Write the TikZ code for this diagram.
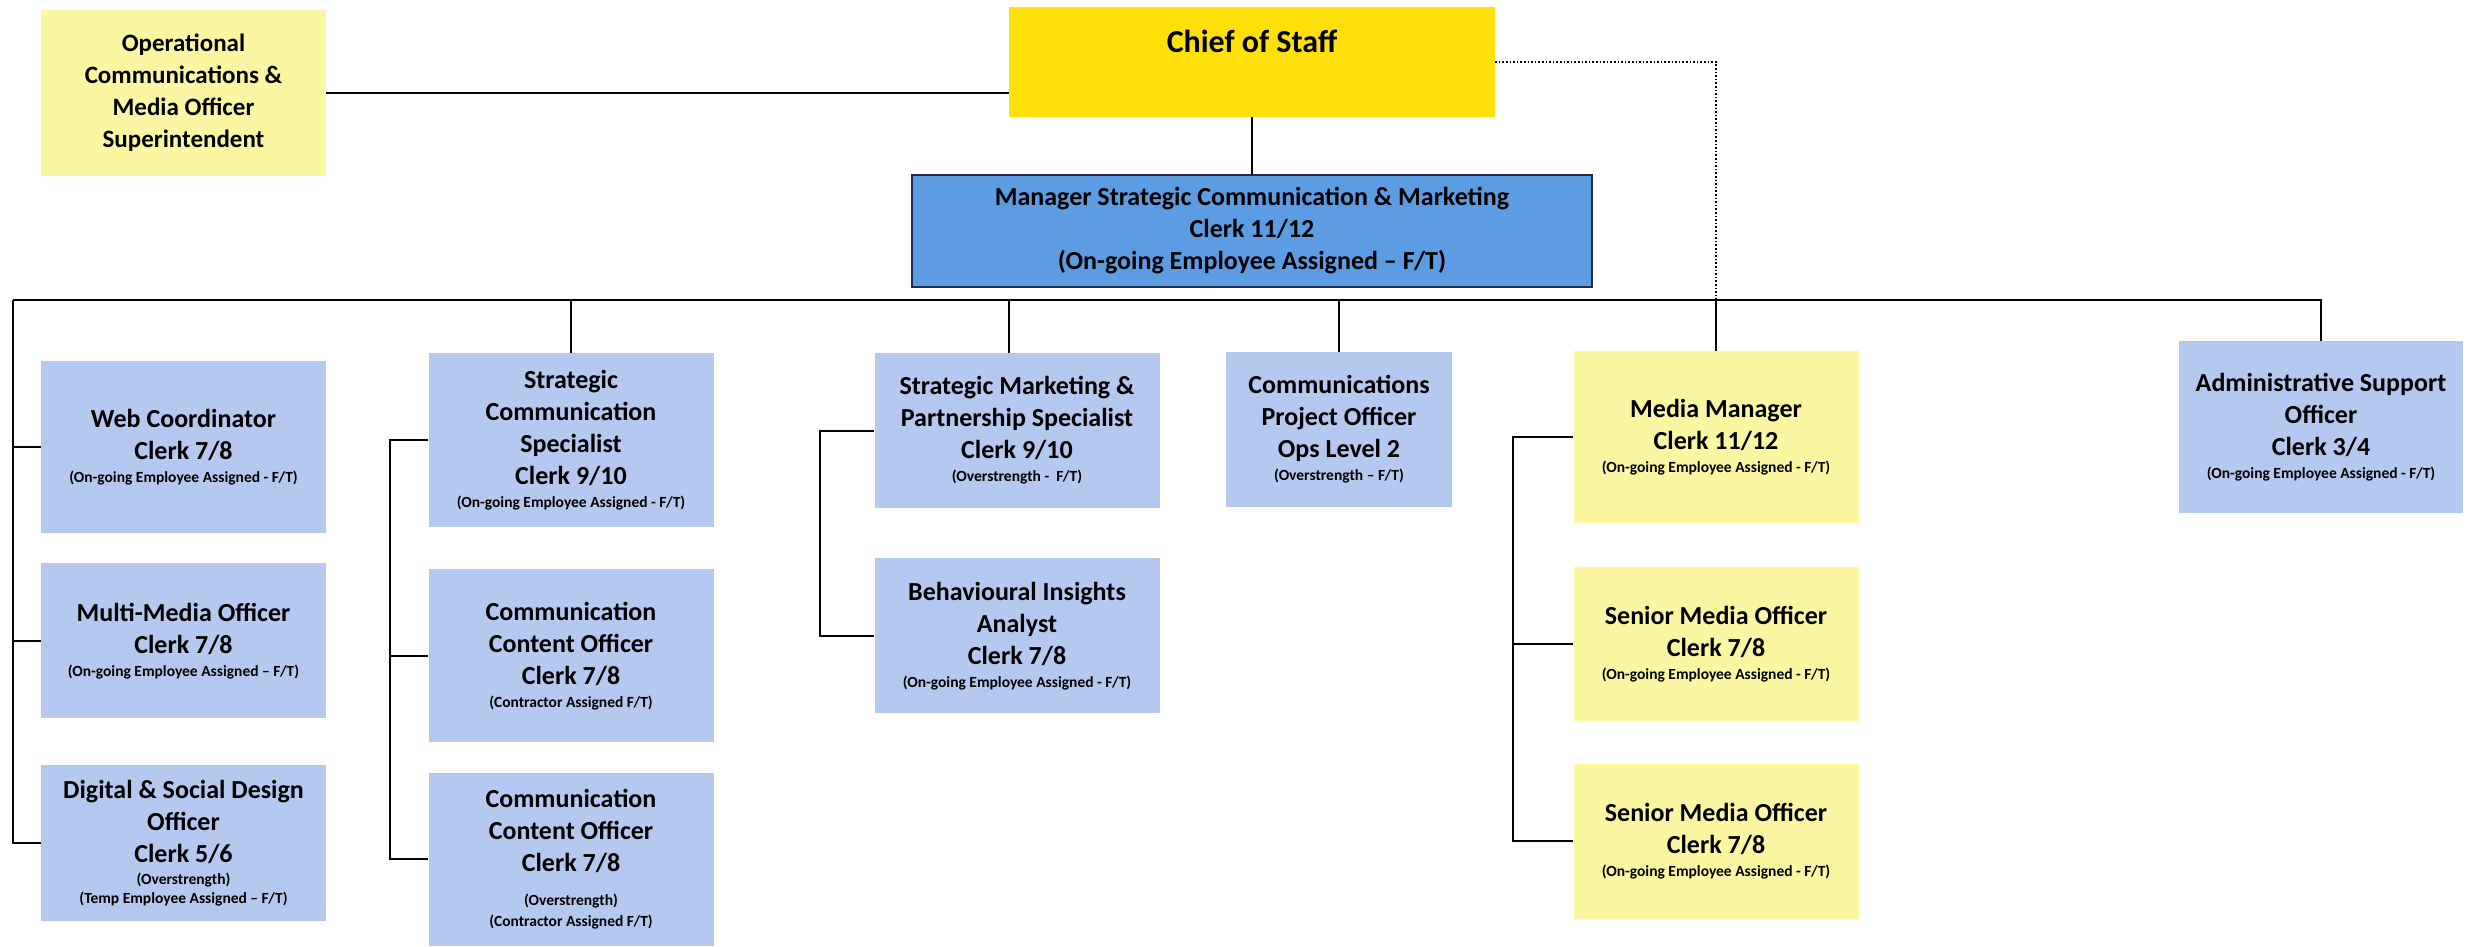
\documentclass[tikz,border=0pt]{standalone}
\usepackage{fontspec}
\setmainfont{Carlito}
\usepackage{xcolor}
\usepackage{tikz}
\usetikzlibrary{positioning}

\definecolor{paleblue}{RGB}{180,200,240}
\definecolor{paleyellow}{RGB}{250,246,162}
\definecolor{chiefyellow}{RGB}{255,224,10}
\definecolor{midblue}{RGB}{92,156,226}
\definecolor{navyline}{RGB}{30,45,80}
\newcommand{\smallnote}[1]{{\fontsize{15.5}{23}\selectfont #1}}

\begin{document}
\begin{tikzpicture}[x=1pt, y=-1pt,
  every node/.style={font=\bfseries\fontsize{26}{32}\selectfont, align=center, inner sep=0pt},
  role/.style={rectangle, fill=paleblue, minimum width=285pt},
  media/.style={rectangle, fill=paleyellow, minimum width=285pt},
  chief/.style={rectangle, fill=chiefyellow, minimum width=486pt, text height=46pt, text depth=64pt, font=\bfseries\fontsize{32}{38}\selectfont},
  manager/.style={rectangle, draw=navyline, line width=1.5pt, fill=midblue, minimum width=680pt, minimum height=112pt},
  link/.style={line width=2pt},
  dotlink/.style={line width=1.6pt, dotted}
]
  \useasboundingbox (0,0) rectangle (2467,947);

  % top of the chart
  \node[chief] (chief) at (1252,62) {Chief of Staff};
  \node[manager, below=57pt of chief] (manager) {Manager Strategic Communication \& Marketing\\Clerk 11/12\\(On-going Employee Assigned – F/T)};
  \node[media, minimum height=166pt, font=\bfseries\fontsize{25}{32}\selectfont] (ops) at (183.5,93) {Operational\\Communications \&\\Media Officer\\Superintendent};

  % first column
  \node[role, minimum height=172pt] (web) at (183.5,447) {Web Coordinator\\Clerk 7/8\\[-9pt]\smallnote{(On-going Employee Assigned - F/T)}};
  \node[role, minimum height=155pt, below=30pt of web] (multi) {Multi-Media Officer\\Clerk 7/8\\[-9pt]\smallnote{(On-going Employee Assigned – F/T)}};
  \node[role, minimum height=156pt, below=46pt of multi] (digital) {Digital \& Social Design\\Officer\\Clerk 5/6\\[-10pt]\smallnote{(Overstrength)}\\[-13pt]\smallnote{(Temp Employee Assigned – F/T)}};

  % second column
  \node[role, minimum height=174pt] (stratcomm) at (571,440) {Strategic\\Communication\\Specialist\\Clerk 9/10\\[-9pt]\smallnote{(On-going Employee Assigned - F/T)}};
  \node[role, minimum height=173pt, below=42pt of stratcomm] (content1) {Communication\\Content Officer\\Clerk 7/8\\[-9pt]\smallnote{(Contractor Assigned F/T)}};
  \node[role, minimum height=173pt, below=30pt of content1] (content2) {Communication\\Content Officer\\Clerk 7/8\\[2pt]\smallnote{(Overstrength)}\\[-11pt]\smallnote{(Contractor Assigned F/T)}};

  % third column
  \node[role, minimum height=155pt] (stratmkt) at (1017,430.5) {Strategic Marketing \&\\Partnership Specialist\\Clerk 9/10\\[-9pt]\smallnote{(Overstrength -\ \ F/T)}};
  \node[role, minimum height=155pt, below=50pt of stratmkt] (behav) {Behavioural Insights\\Analyst\\Clerk 7/8\\[-9pt]\smallnote{(On-going Employee Assigned - F/T)}};

  \node[role, minimum width=226pt, minimum height=155pt] (projofficer) at (1339,429.5) {Communications\\Project Officer\\Ops Level 2\\[-9pt]\smallnote{(Overstrength – F/T)}};

  % media column
  \node[media, minimum height=172pt] (mediamgr) at (1716,437) {Media Manager\\Clerk 11/12\\[-9pt]\smallnote{(On-going Employee Assigned - F/T)}};
  \node[media, minimum height=154pt, below=44pt of mediamgr] (senior1) {Senior Media Officer\\Clerk 7/8\\[-9pt]\smallnote{(On-going Employee Assigned - F/T)}};
  \node[media, minimum height=155pt, below=42pt of senior1] (senior2) {Senior Media Officer\\Clerk 7/8\\[-9pt]\smallnote{(On-going Employee Assigned - F/T)}};

  \node[role, minimum width=284pt, minimum height=172pt] (admin) at (2321,427) {Administrative Support\\Officer\\Clerk 3/4\\[-9pt]\smallnote{(On-going Employee Assigned - F/T)}};

  % lines
  \coordinate (busL) at (13,300);
  \draw[link] (ops.east) -- (ops.east -| chief.west);
  \draw[link] (chief.south) -- (manager.north);
  \draw[dotlink] (chief.east) -| (mediamgr.north |- busL);
  \draw[link] (busL) -- (busL -| admin.north) -- (admin.north);
  \foreach \n in {stratcomm, projofficer, mediamgr}
    \draw[link] (\n.north |- busL) -- (\n.north);
  \draw[link] ([xshift=-8pt]stratmkt.north |- busL) -- ([xshift=-8pt]stratmkt.north);

  \draw[link] (busL) |- (digital.west);
  \foreach \n in {web, multi}
    \draw[link] (\n.west -| busL) -- (\n.west);

  \coordinate (scbr) at ([xshift=-38pt]stratcomm.west);
  \draw[link] (stratcomm.west) -- (scbr) |- (content2.west);
  \draw[link] (scbr |- content1.west) -- (content1.west);

  \coordinate (smbr) at ([xshift=-54pt]stratmkt.west);
  \draw[link] (stratmkt.west) -- (smbr) |- (behav.west);

  \coordinate (mmbr) at ([xshift=-60pt]mediamgr.west);
  \draw[link] (mediamgr.west) -- (mmbr) |- (senior2.west);
  \draw[link] (mmbr |- senior1.west) -- (senior1.west);
\end{tikzpicture}
\end{document}
